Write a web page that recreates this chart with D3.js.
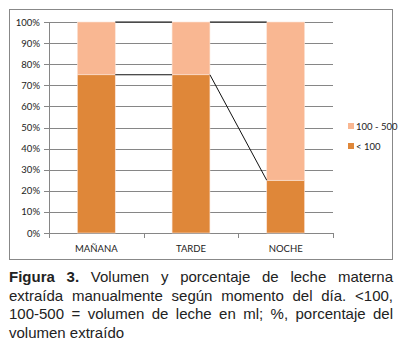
<!DOCTYPE html>
<html>
<head>
<meta charset="utf-8">
<script src="https://cdn.jsdelivr.net/npm/d3@7"></script>
<style>
  body { margin: 0; background: #fff; position: relative; }
  svg { display: block; }
  #caption {
    position: absolute; left: 9px; top: 268px; width: 384px;
    font-family: 'Liberation Sans', Arial, sans-serif;
    font-size: 15px; line-height: 18.5px; color: #222;
  }
  #caption div { text-align: justify; text-align-last: justify; white-space: nowrap; }
  #caption div.last { text-align-last: left; }
</style>
</head>
<body>
<div id="chart"></div>
<div id="caption"></div>
<script>
// data
var categories = ["MAÑANA", "TARDE", "NOCHE"];
var seriesNames = ["< 100", "100 - 500"];
var low = [75, 75, 25];        // < 100
var high = [25, 25, 75];       // 100 - 500
var yTicks = [0, 10, 20, 30, 40, 50, 60, 70, 80, 90, 100];
var captionBold = "Figura 3.";
var captionLines = [
  " Volumen y porcentaje de leche materna",
  "extraída manualmente según momento del día. <100,",
  "100-500 = volumen de leche en ml; %, porcentaje del",
  "volumen extraído"
];

var colors = {"< 100": "#df8739", "100 - 500": "#f9b792"};
var labelFont = "Lato, Carlito, sans-serif";

var svg = d3.select("#chart").append("svg")
  .attr("width", 407)
  .attr("height", 354);

// outer frame of the chart
svg.append("rect")
  .attr("x", 9.5).attr("y", 9.5)
  .attr("width", 383).attr("height", 250)
  .attr("fill", "none")
  .attr("stroke", "#888")
  .attr("stroke-width", 1);

const margin = {top: 22, left: 49},
    width = 284,
    height = 211;

var g = svg.append("g")
  .attr("transform", "translate(" + margin.left + "," + margin.top + ")");

const x = d3.scaleBand().domain(categories).range([0, width]).paddingInner(0).paddingOuter(0);
const y = d3.scaleLinear().domain([0, 100]).range([height, 0]);
const barW = x.bandwidth() / 2.5;

// gridlines
g.selectAll(".grid")
  .data(yTicks)
  .enter().append("line")
  .attr("x1", 0).attr("x2", width)
  .attr("y1", d => Math.round(y(d)) + 0.5)
  .attr("y2", d => Math.round(y(d)) + 0.5)
  .attr("stroke", "#868686")
  .attr("stroke-width", 1);

// y axis
g.append("line")
  .attr("x1", 0.5).attr("x2", 0.5)
  .attr("y1", 0).attr("y2", height + 0.5)
  .attr("stroke", "#868686");
g.selectAll(".ytick")
  .data(yTicks)
  .enter().append("line")
  .attr("x1", -5).attr("x2", 0)
  .attr("y1", d => Math.round(y(d)) + 0.5)
  .attr("y2", d => Math.round(y(d)) + 0.5)
  .attr("stroke", "#868686");
g.selectAll(".ylab")
  .data(yTicks)
  .enter().append("text")
  .attr("x", -9)
  .attr("y", d => y(d) + 3.5)
  .attr("text-anchor", "end")
  .style("font-family", labelFont)
  .style("font-size", "9.5px")
  .attr("fill", "#222")
  .text(d => d + "%");

// x axis ticks
g.selectAll(".xtick")
  .data(d3.range(categories.length + 1))
  .enter().append("line")
  .attr("x1", d => Math.round(d * x.step()) + 0.5)
  .attr("x2", d => Math.round(d * x.step()) + 0.5)
  .attr("y1", height).attr("y2", height + 5)
  .attr("stroke", "#868686");

g.selectAll(".xlab")
  .data(categories)
  .enter().append("text")
  .attr("x", d => x(d) + x.bandwidth() / 2)
  .attr("y", height + 18.5)
  .attr("text-anchor", "middle")
  .style("font-family", labelFont)
  .style("font-size", "9.5px")
  .attr("fill", "#222")
  .text(d => d);

// stacked bars
var rows = categories.map((c, i) => ({cat: c, "< 100": low[i], "100 - 500": high[i]}));
var stacked = d3.stack().keys(seriesNames)(rows);

g.selectAll(".layer")
  .data(stacked)
  .enter().append("g")
  .attr("fill", d => colors[d.key])
  .selectAll("rect")
  .data(d => d)
  .enter().append("rect")
  .attr("x", d => x(d.data.cat) + (x.bandwidth() - barW) / 2)
  .attr("y", d => y(d[1]))
  .attr("width", barW)
  .attr("height", d => y(d[0]) - y(d[1]))
  .attr("stroke", "#fbe3d6")
  .attr("stroke-width", 0.6);

// series lines between bars
stacked.forEach(function (layer) {
  for (let i = 0; i < layer.length - 1; i++) {
    g.append("line")
      .attr("x1", x(categories[i]) + (x.bandwidth() + barW) / 2)
      .attr("y1", y(layer[i][1]))
      .attr("x2", x(categories[i + 1]) + (x.bandwidth() - barW) / 2)
      .attr("y2", y(layer[i + 1][1]))
      .attr("stroke", "#111")
      .attr("stroke-width", 1);
  }
});

// legend
var legend = svg.append("g").attr("transform", "translate(348,123)");
["100 - 500", "< 100"].forEach(function (k, i) {
  legend.append("rect")
    .attr("x", 0).attr("y", i * 20)
    .attr("width", 6).attr("height", 6)
    .attr("fill", colors[k]);
  legend.append("text")
    .attr("x", 8).attr("y", i * 20 + 6.5)
    .style("font-family", labelFont)
    .style("font-size", "9.5px")
    .attr("fill", "#222")
    .text(k);
});

// caption, one justified line per div
var cap = d3.select("#caption");
captionLines.forEach(function (line, i) {
  var row = cap.append("div").classed("last", i === captionLines.length - 1);
  if (i === 0) row.append("b").text(captionBold);
  row.append("span").text(line);
});
</script>
</body>
</html>
